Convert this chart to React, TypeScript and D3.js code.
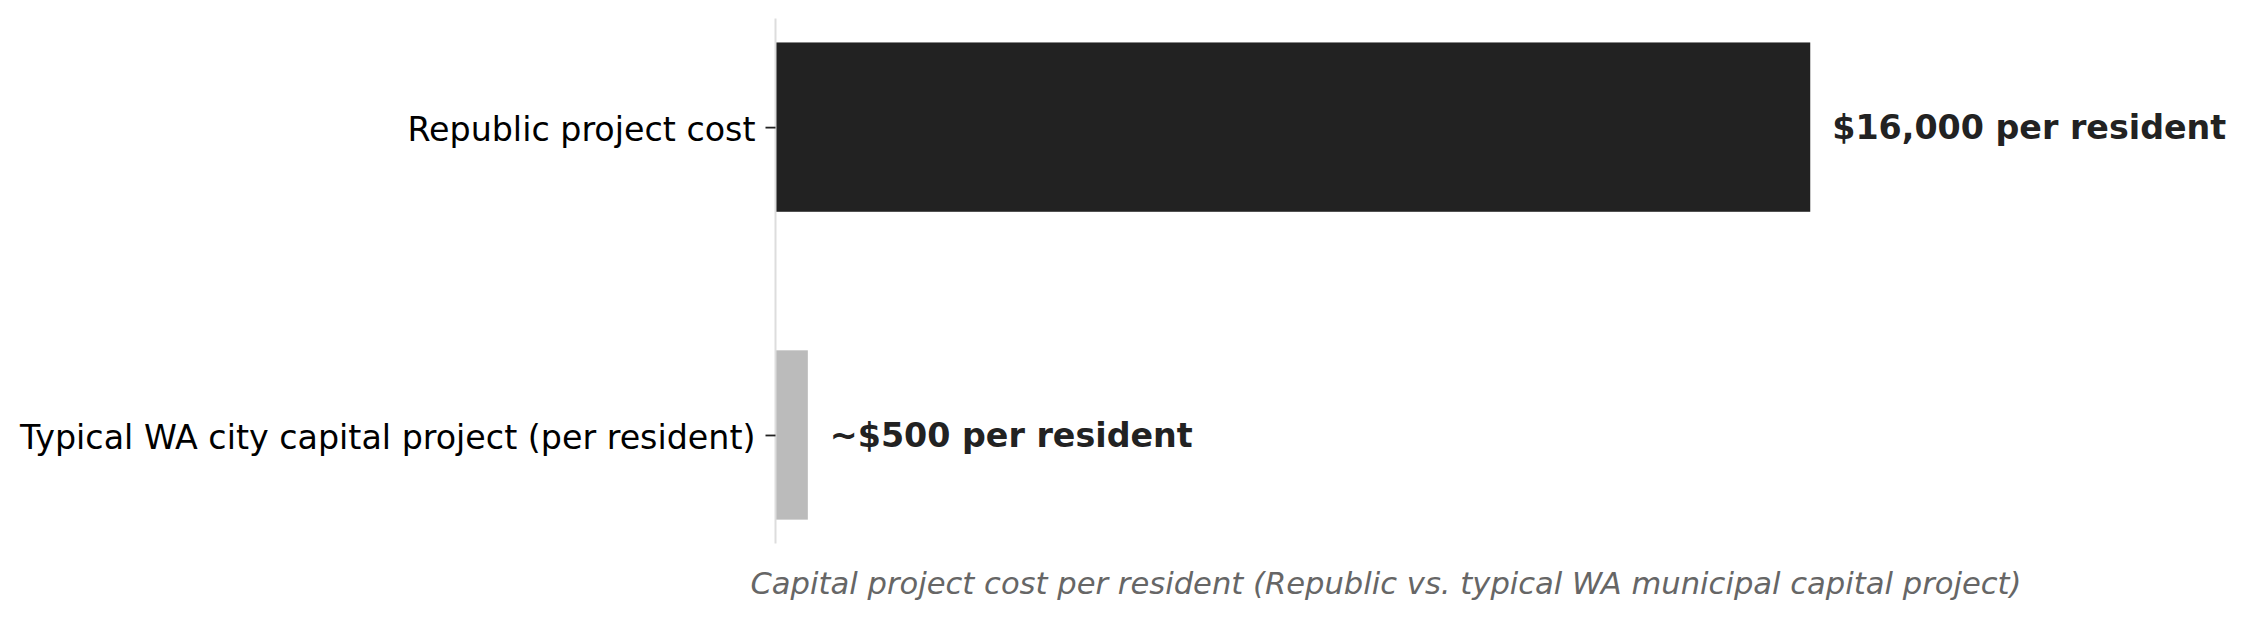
import { useEffect, useRef } from "react";
import * as d3 from "d3";

const categories = ["Typical WA city capital project (per resident)", "Republic project cost"];
const values = [500, 16000];
const valueLabels = ["~$500 per resident", "$16,000 per resident"];
const barColors = ["#bbbbbb", "#222222"];
const xLabel = "Capital project cost per resident (Republic vs. typical WA municipal capital project)";

const W = 2245;
const H = 620;
const FONT = "'DejaVu Sans', sans-serif";

export default function App() {
  const svgRef = useRef<SVGSVGElement>(null);

  useEffect(() => {
    if (!svgRef.current) return;
    const svg = d3.select(svgRef.current);
    svg.selectAll("*").remove();

    const left = 775.5;
    const right = 1996.5;
    const top = 18.6;
    const bottom = 543.5;

    const x = d3.scaleLinear().domain([0, 18880]).range([left, right]);
    const y = d3.scaleLinear().domain([-0.3525, 1.3525]).range([bottom, top]);
    const barH = y(0) - y(0.55);

    const idx = categories.map((_, i) => i);

    // bars
    svg.append("g")
      .selectAll("rect")
      .data(idx)
      .enter()
      .append("rect")
      .attr("x", x(0))
      .attr("y", (i) => y(i) - barH / 2)
      .attr("width", (i) => x(values[i]) - x(0))
      .attr("height", barH)
      .attr("fill", (i) => barColors[i]);

    // left spine
    svg.append("line")
      .attr("x1", left).attr("x2", left)
      .attr("y1", top).attr("y2", bottom)
      .attr("stroke", "#dddddd")
      .attr("stroke-width", 2);

    // y axis ticks + labels
    const axis = d3.axisLeft(y)
      .tickValues(idx)
      .tickFormat((d) => categories[d as number])
      .tickSize(10)
      .tickPadding(10);
    const ga = svg.append("g").attr("transform", `translate(${left},0)`).call(axis);
    ga.select(".domain").remove();
    ga.selectAll(".tick line").attr("stroke", "#222").attr("stroke-width", 1.8);
    ga.selectAll(".tick text")
      .attr("font-family", FONT)
      .attr("font-size", 33.3)
      .attr("fill", "#000")
      .attr("dy", "0.4em");

    // value labels
    svg.append("g")
      .selectAll("text")
      .data(idx)
      .enter()
      .append("text")
      .attr("x", (i) => x(values[i]) + 22)
      .attr("y", (i) => y(i))
      .attr("dy", "0.36em")
      .attr("font-family", FONT)
      .attr("font-size", 33.3)
      .attr("font-weight", "bold")
      .attr("fill", "#222222")
      .text((i) => valueLabels[i]);

    // x label
    svg.append("text")
      .attr("x", (left + right) / 2)
      .attr("y", 594)
      .attr("text-anchor", "middle")
      .attr("font-family", FONT)
      .attr("font-size", 30.6)
      .attr("font-style", "italic")
      .attr("fill", "#666666")
      .text(xLabel);
  }, []);

  return (
    <svg
      ref={svgRef}
      width={W}
      height={H}
      style={{ position: "absolute", left: 0, top: 0, background: "#fff" }}
    />
  );
}
